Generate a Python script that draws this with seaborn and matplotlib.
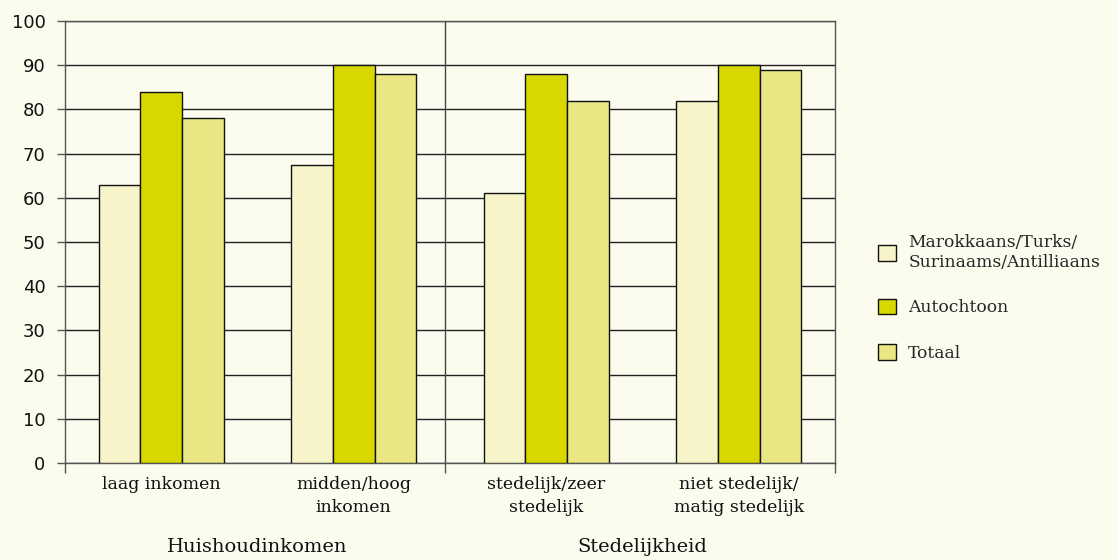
import pandas as pd
import matplotlib.pyplot as plt
import seaborn as sns
from matplotlib.transforms import blended_transform_factory

# --------------------------------------------------
# Data
# --------------------------------------------------
categories = ["laag inkomen", "midden/hoog\ninkomen",
              "stedelijk/zeer\nstedelijk", "niet stedelijk/\nmatig stedelijk"]
groups = ["Huishoudinkomen", "Stedelijkheid"]
series = ["Marokkaans/Turks/\nSurinaams/Antilliaans", "Autochtoon", "Totaal"]

allochtoon = [63, 67.5, 61, 82]
autochtoon = [84, 90, 88, 90]
totaal = [78, 88, 82, 89]

colors = ["#F6F4C8", "#D8D800", "#E8E784"]
bg = "#FBFBEE"

rows = []
for name, vals in zip(series, [allochtoon, autochtoon, totaal]):
    for cat, v in zip(categories, vals):
        rows.append({"categorie": cat, "groep": name, "waarde": v})
df = pd.DataFrame(rows)

# --------------------------------------------------
# Plot
# --------------------------------------------------
sns.set_style("white")
plt.rcParams["font.family"] = ["DejaVu Serif"]

fig = plt.figure(figsize=(11.18, 5.6), dpi=100, facecolor=bg)
ax = fig.add_axes([0.0581, 0.1732, 0.6888, 0.7893])
ax.set_facecolor(bg)

sns.barplot(data=df, x="categorie", y="waarde", hue="groep",
            order=categories, hue_order=series, palette=colors,
            width=0.65, edgecolor="#111111", linewidth=1.0,
            saturation=1, ax=ax, legend=True, zorder=3)

ax.set_ylim(0, 100)
ax.set_xlim(-0.5, 3.5)
ax.set_yticks(range(0, 101, 10))
ax.set_yticklabels([str(v) for v in range(0, 101, 10)],
                   family="DejaVu Sans", fontsize=13, color="#111111")
ax.yaxis.grid(True, color="#222222", linewidth=1.0, zorder=0)
ax.set_axisbelow(True)
ax.tick_params(axis="y", direction="out", length=6, width=1, color="#555555",
               left=True, pad=8)

# separator between the two groups (slightly left of centre, as in the source)
sep = 1.475
ax.set_xticks(range(len(categories)))
ax.set_xticklabels(categories, fontsize=12.5, color="#111111", linespacing=1.5)
ax.set_xticks([-0.5, sep, 3.5], minor=True)
ax.tick_params(axis="x", which="major", length=0, pad=9)
ax.tick_params(axis="x", which="minor", direction="out", length=7.5, width=1,
               color="#555555", bottom=True)

ax.axvline(sep, color="#444444", linewidth=1.0, zorder=1)
for side in ["left", "right", "top", "bottom"]:
    ax.spines[side].set_visible(True)
    ax.spines[side].set_color("#555555")
    ax.spines[side].set_linewidth(1.0)

ax.set_xlabel("")
ax.set_ylabel("")

trans = blended_transform_factory(ax.transData, ax.transAxes)
ax.text(0.5, -0.19, groups[0], transform=trans, ha="center", va="center",
        fontsize=14, color="#111111")
ax.text(2.5, -0.19, groups[1], transform=trans, ha="center", va="center",
        fontsize=14, color="#111111")

handles, labels = ax.get_legend_handles_labels()
ax.get_legend().remove()
fig.legend(handles, labels, loc="center left", bbox_to_anchor=(0.772, 0.468),
           frameon=False, handlelength=1.0, handleheight=1.0,
           labelspacing=1.65, handletextpad=0.75, prop={"size": 12.3})

fig.savefig("out.png", dpi=100, facecolor=bg)
